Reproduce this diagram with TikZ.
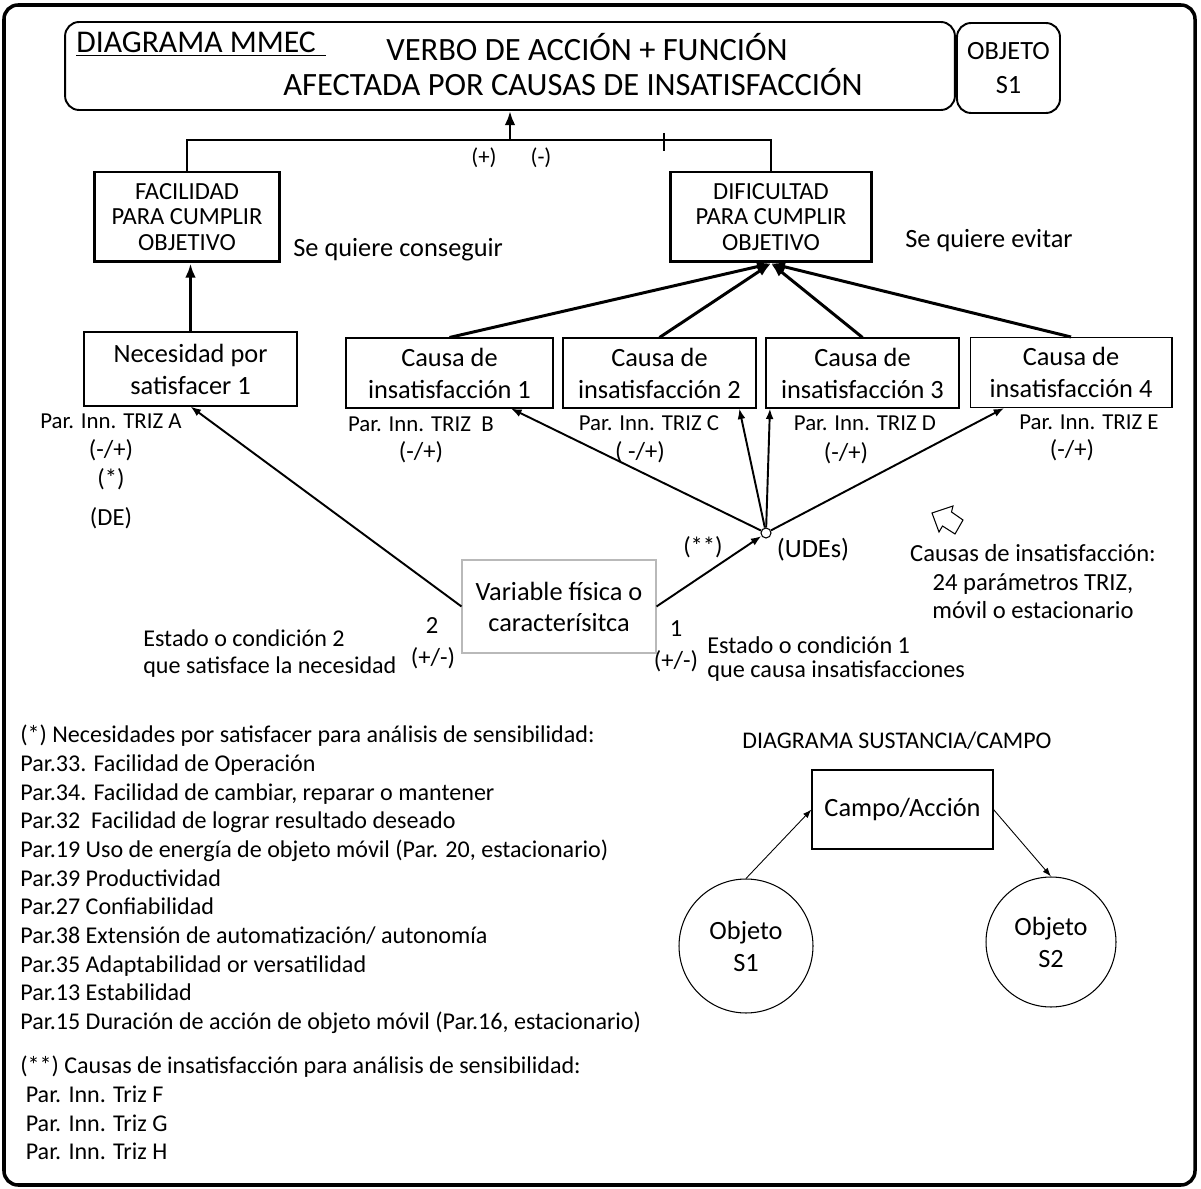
\documentclass[tikz,border=0pt]{standalone}
\usepackage{fontspec}
\setmainfont{Carlito}
\usetikzlibrary{arrows.meta,calc,positioning}
\tikzset{>=Latex,
  every node/.style={inner sep=0pt},
  frame/.style={draw,line width=2pt,rounded corners=8pt},
  headbox/.style={draw,line width=1.1pt,rounded corners=8pt},
  goalbox/.style={draw,line width=1.7pt,align=center,minimum height=1.8cm,
    font=\fontsize{14}{14.5}\selectfont},
  causebox/.style={draw,line width=.6pt,align=center,minimum height=1.4cm,
    font=\fontsize{15}{18.2}\selectfont},
  partxt/.style={font=\fontsize{13}{16}\selectfont},
  signtxt/.style={font=\fontsize{14}{17}\selectfont},
  listtxt/.style={align=left,font=\fontsize{13.7}{16.3}\selectfont},
  bigarrow/.style={->,line width=1.7pt,>={Latex[length=8pt,width=6pt]}},
  midarrow/.style={->,line width=1.1pt,>={Latex[length=6pt,width=4.5pt]}},
  thinarrow/.style={->,line width=.5pt,>={Latex[length=5pt,width=3.5pt]}}}

\begin{document}
\begin{tikzpicture}[x=0.02cm,y=-0.02cm]
\useasboundingbox (0,0) rectangle (1201,1189);
\draw[frame] (4,5) rectangle (1195,1185);

% cabecera
\node[headbox,minimum width=17.8cm,minimum height=1.76cm] (title) at (510,66) {};
\node[headbox,minimum width=2.06cm,minimum height=1.8cm,align=center,
  font=\fontsize{15}{19.3}\selectfont] (objeto) at (1008.5,68) {OBJETO\\S1};
\node[anchor=base west,font=\fontsize{18}{20}\selectfont] (mmec) at (76,53) {\underline{DIAGRAMA MMEC\,\,}};
\node[anchor=base,font=\fontsize{18.5}{20}\selectfont] (verbo) at (587,61) {VERBO DE ACCIÓN + FUNCIÓN};
\node[anchor=base,font=\fontsize{18.5}{20}\selectfont] (afect) at (573,96) {AFECTADA POR CAUSAS DE INSATISFACCIÓN};

\node[goalbox,minimum width=3.72cm] (facil) at (187,217) {FACILIDAD\\PARA CUMPLIR\\OBJETIVO};
\node[goalbox,minimum width=4.04cm] (dific) at (771,217) {DIFICULTAD\\PARA CUMPLIR\\OBJETIVO};
\node[anchor=west,font=\fontsize{15}{17}\selectfont] (conseg) at (293,250) {Se quiere conseguir};
\node[anchor=west,font=\fontsize{15}{17}\selectfont] (evitar) at (905,241) {Se quiere evitar};

\coordinate (join) at (510,140);
\draw[line width=1.7pt] (facil.north) -- (facil.north |- join) -- (dific.north |- join) -- (dific.north);
\draw[bigarrow] (join) -- (title.south);
\draw[line width=.6pt] (664,133) -- (664,151);
\node[partxt] (plus) at (484,158) {(+)};
\node[partxt] (minus) at (541,158) {(-)};

% necesidad y causas
\node[causebox,minimum width=4.26cm,minimum height=1.48cm] (nec) at (190.5,369) {Necesidad por\\satisfacer 1};
\node[causebox,minimum width=4.14cm] (c1) at (449.5,373) {Causa de\\insatisfacción 1};
\node[causebox,minimum width=3.86cm] (c2) at (659.5,373) {Causa de\\insatisfacción 2};
\node[causebox,minimum width=3.86cm] (c3) at (862.5,373) {Causa de\\insatisfacción 3};
\node[causebox,minimum width=4.04cm] (c4) at (1071,372.5) {Causa de\\insatisfacción 4};
\draw[bigarrow] (nec.north) -- (nec.north |- facil.south);
\foreach \c in {c1,c2,c3,c4}
  \draw[bigarrow] (\c.north) -- (dific.south);

\node[partxt] (parA) at (111,421) {Par. Inn. TRIZ A};
\node[signtxt] (sgA) at (111,450) {(-/+)};
\node[signtxt] (astA) at (111,479) {(*)};
\node[signtxt] (deA) at (111,518) {(DE)};
\node[partxt] (parB) at (421,424) {Par. Inn. TRIZ\ \ B};
\node[signtxt] (sgB) at (421,452) {(-/+)};
\node[partxt] (parC) at (649,423) {Par. Inn. TRIZ C};
\node[signtxt] (sgC) at (640,452) {( -/+)};
\node[partxt] (parD) at (865,423) {Par. Inn. TRIZ D};
\node[signtxt] (sgD) at (846,453) {(-/+)};
\node[partxt] (parE) at (1089,422) {Par. Inn. TRIZ E};
\node[signtxt] (sgE) at (1072,450) {(-/+)};

% variable fisica
\node[causebox,draw=gray!55,minimum width=3.88cm,minimum height=1.86cm,
  font=\fontsize{15}{17.6}\selectfont] (var) at (559,606.5) {Variable física o\\caracterísitca};
\node[circle,draw,line width=.6pt,minimum size=0.2cm,fill=white] (udes) at (766,533) {};
\draw[midarrow] (var.west) -- (nec.south);
\draw[midarrow] (var.east) -- (udes);
\draw[midarrow] (udes) -- (c1.-30);
\draw[midarrow] (udes) -- (c2.-24);
\draw[midarrow] (udes) -- (c3.-159);
\draw[midarrow] (udes) -- (c4.-152);
\node[signtxt] (dstar) at (703,547) {(**)};
\node[font=\fontsize{15}{18}\selectfont] (udtxt) at (813,550) {(UDEs)};

\node[signtxt] (two) at (432,626) {2};
\node[signtxt] (sg2) at (433,658) {(+/-)};
\node[signtxt] (one) at (676,629) {1};
\node[signtxt] (sg1) at (676,661) {(+/-)};
\node[anchor=west,align=left,font=\fontsize{13.7}{15.4}\selectfont] (est2) at (143,654)
  {Estado o condición 2\\que satisface la necesidad};
\node[anchor=west,align=left,font=\fontsize{13.8}{13.2}\selectfont] (est1) at (707,659)
  {Estado o condición 1\\que causa insatisfacciones};

\draw[line width=.6pt] (932,513) -- (953,506) -- (951.5,512) -- (963,520) -- (955,534)
  -- (942.5,526) -- (939,532) -- cycle;
\node[align=center,font=\fontsize{14}{16.2}\selectfont] (causas) at (1033,582)
  {Causas de insatisfacción:\\24 parámetros TRIZ,\\móvil o estacionario};

% listas
\node[listtxt,anchor=north west] (list1) at (20,725)
  {(*) Necesidades por satisfacer para análisis de sensibilidad:\\
   Par.33. Facilidad de Operación\\
   Par.34. Facilidad de cambiar, reparar o mantener\\
   Par.32\ \ Facilidad de lograr resultado deseado\\
   Par.19 Uso de energía de objeto móvil (Par. 20, estacionario)\\
   Par.39 Productividad\\
   Par.27 Confiabilidad\\
   Par.38 Extensión de automatización/ autonomía\\
   Par.35 Adaptabilidad or versatilidad\\
   Par.13 Estabilidad\\
   Par.15 Duración de acción de objeto móvil (Par.16, estacionario)};
\node[listtxt,anchor=north west] (list2) at (20,1056)
  {(**) Causas de insatisfacción para análisis de sensibilidad:\\
   \ Par. Inn. Triz F\\
   \ Par. Inn. Triz G\\
   \ Par. Inn. Triz H};

% sustancia/campo
\node[font=\fontsize{13.6}{15}\selectfont] (sctitle) at (897,741) {DIAGRAMA SUSTANCIA/CAMPO};
\node[draw,line width=.6pt,minimum width=3.62cm,minimum height=1.58cm,
  font=\fontsize{15}{18}\selectfont] (campo) at (902.5,809.5) {Campo/Acción};
\node[circle,draw,line width=.6pt,minimum size=2.68cm,align=center,
  font=\fontsize{15}{18.2}\selectfont] (s1) at (746,946) {Objeto\\S1};
\node[circle,draw,line width=.6pt,minimum size=2.6cm,align=center,
  font=\fontsize{15}{18.2}\selectfont] (s2) at (1051,942) {Objeto\\S2};
\draw[thinarrow] (s1.north) -- (campo.west);
\draw[thinarrow] (campo.east) -- (s2.north);
\end{tikzpicture}
\end{document}
